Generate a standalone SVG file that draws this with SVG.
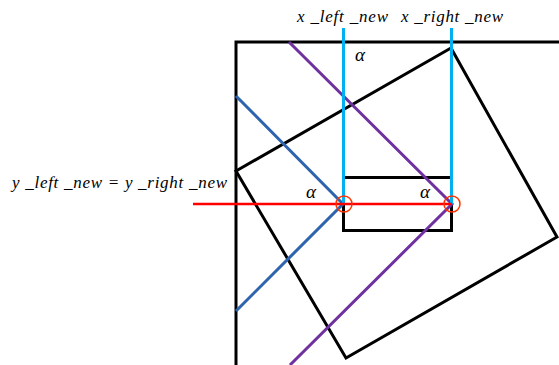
<svg xmlns="http://www.w3.org/2000/svg" width="559" height="365" viewBox="0 0 559 365">
<style>
.k{fill:none;stroke:#000;stroke-width:3;stroke-linejoin:miter}
.t{font-family:"Liberation Serif",serif;font-style:italic;font-size:17px;fill:#000}
.a{font-family:"Liberation Serif",serif;font-style:italic;font-size:19px;fill:#000}
</style>
<rect width="559" height="365" fill="#fff"/>
<g id="outer"><path class="k" d="M236,365 V42 H559"/></g>
<g id="rotated"><polygon class="k" points="451,48 557,237 346,358 236,171"/></g>
<g id="inner"><rect class="k" x="343.5" y="177.5" width="108" height="53"/></g>
<g id="connectors">
<polyline points="236,96 343,204 236,311" fill="none" stroke="#2E64AE" stroke-width="3"/>
<polyline points="289,42 452,204 290,365" fill="none" stroke="#7030A0" stroke-width="3"/>
<line x1="343.5" y1="28" x2="343.5" y2="204" stroke="#00B0F0" stroke-width="3"/>
<line x1="451.5" y1="28" x2="451.5" y2="204" stroke="#00B0F0" stroke-width="3"/>
<line x1="193" y1="204" x2="452" y2="204" stroke="#FF0000" stroke-width="2.5"/>
<circle cx="344" cy="204" r="8" fill="none" stroke="#FF3300" stroke-width="1.5"/>
<circle cx="452" cy="204" r="8" fill="none" stroke="#FF3300" stroke-width="1.5"/>
</g>
<g id="labels">
<text class="t" x="297" y="22" textLength="91" lengthAdjust="spacing">x _left _new</text>
<text class="t" x="401" y="22" textLength="102" lengthAdjust="spacing">x _right _new</text>
<text class="a" x="355" y="61">α</text>
<text class="a" x="306" y="198">α</text>
<text class="a" x="420" y="198">α</text>
<text class="t" x="12" y="188" textLength="215" lengthAdjust="spacing">y _left _new = y _right _new</text>
</g>
</svg>
